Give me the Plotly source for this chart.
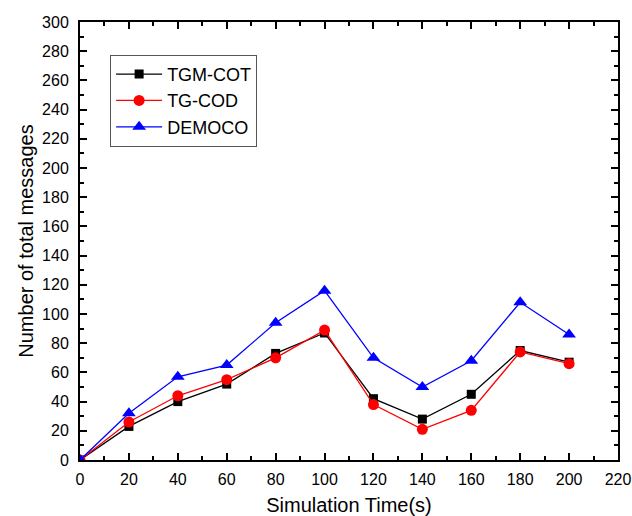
import plotly.graph_objects as go

time_s = [0, 20, 40, 60, 80, 100, 120, 140, 160, 180, 200]
tgm_cot = [0, 23, 40, 52, 73, 87, 42, 28, 45, 75, 67]
tg_cod = [0, 26, 44, 55, 70, 89, 38, 21, 34, 74, 66]
democo = [0, 32, 57, 65, 94, 116, 70, 50, 68, 108, 86]

x_ticks = list(range(0, 221, 20))
y_ticks = list(range(0, 301, 20))

FONT = "Liberation Sans, Arial"

fig = go.Figure()
fig.add_trace(go.Scatter(x=time_s, y=tgm_cot, name="TGM-COT", mode="lines+markers",
                         line=dict(color="black", width=1.3),
                         marker=dict(symbol="square", size=9, color="black")))
fig.add_trace(go.Scatter(x=time_s, y=tg_cod, name="TG-COD", mode="lines+markers",
                         line=dict(color="red", width=1.3),
                         marker=dict(symbol="circle", size=11, color="red")))
fig.add_trace(go.Scatter(x=time_s, y=democo, name="DEMOCO", mode="lines+markers",
                         line=dict(color="blue", width=1.3),
                         marker=dict(symbol="triangle-up", size=12, color="blue")))

axis_common = dict(showgrid=False, zeroline=False, showline=True, linecolor="black",
                   linewidth=2, mirror="ticks", ticks="inside", ticklen=7, tickwidth=1.5,
                   tickcolor="black", automargin=False,
                   tickfont=dict(family=FONT, size=16, color="black"),
                   minor=dict(ticks="inside", ticklen=4, tickwidth=1.5, tickcolor="black", dtick=10))

fig.update_xaxes(range=[0, 220], tickvals=x_ticks, ticklabelstandoff=4,
                 title=dict(text="Simulation Time(s)", font=dict(family=FONT, size=20, color="black"), standoff=12),
                 **axis_common)
fig.update_yaxes(range=[0, 300], tickvals=y_ticks, ticklabelstandoff=6,
                 title=dict(text="Number of total messages", font=dict(family=FONT, size=20, color="black"), standoff=3),
                 **axis_common)

fig.update_layout(
    width=632, height=516,
    margin=dict(l=80, r=14, t=22, b=56),
    plot_bgcolor="white", paper_bgcolor="white",
    legend=dict(x=0.056, y=0.925, xanchor="left", yanchor="top",
                bordercolor="#555555", borderwidth=1, bgcolor="white",
                font=dict(family=FONT, size=18, color="black"),
                tracegroupgap=0, itemwidth=46),
    showlegend=True,
)

fig.write_html("out.html", config={"displayModeBar": False},
               post_script="document.body.style.margin='0';")
